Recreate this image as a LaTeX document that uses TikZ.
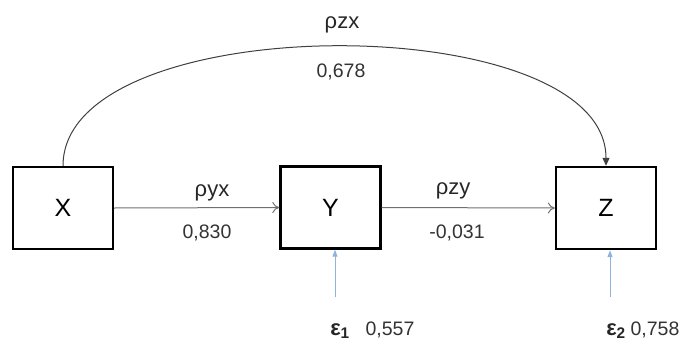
\documentclass[tikz,border=0pt]{standalone}
\usepackage{fontspec}
\setmainfont{Liberation Sans}
\usetikzlibrary{arrows.meta}
\definecolor{linegray}{HTML}{707070}
\definecolor{errblue}{HTML}{8DB4DC}
\begin{document}
\begin{tikzpicture}[x=1pt,y=-1pt,
  varbox/.style={draw=black,line width=2.4pt,minimum width=100pt,minimum height=82pt,inner sep=0pt,font=\fontsize{25}{29}\selectfont},
  path/.style={draw=linegray,line width=1pt,-{To[length=7pt,width=11pt]}},
  curvearrow/.style={draw=black!75,line width=1pt,-{Triangle[length=8pt,width=7pt]}},
  errarrow/.style={draw=errblue,line width=1pt,-{Triangle[length=7pt,width=5pt]}},
  lab/.style={font=\fontsize{22}{26}\selectfont,text=black!85,inner sep=0pt},
  num/.style={font=\fontsize{19.5}{23}\selectfont,text=black!80,inner sep=0pt}]
\useasboundingbox (0,0) rectangle (687,353);
\node[varbox] (X) at (63,208) {X};
\node[varbox] (Y) at (330.5,207.5) {Y};
\node[varbox] (Z) at (606,208) {Z};
\draw[path] (X.east) -- (Y.west);
\draw[path] (Y.east) -- (Z.west);
\draw[curvearrow] (X.north) .. controls (63,7) and (606,7) .. (Z.north);
\node[lab] (rzx) at (342,25) {ρzx};
\node[num] (vzx) at (341,72) {0,678};
\node[lab] (ryx) at (212,193) {ρyx};
\node[num] (vyx) at (207,233) {0,830};
\node[lab] (rzy) at (453,191) {ρzy};
\node[num] (vzy) at (457,233) {-0,031};
\coordinate (e1a) at (335,297);
\coordinate (e2a) at (610,297);
\draw[errarrow] (e1a) -- (e1a |- Y.south);
\draw[errarrow] (e2a) -- (e2a |- Z.south);
\node[lab] (e1) at (340,331) {\textbf{ε}\textsubscript{\textbf{1}}};
\node[num] (v1) at (390,330) {0,557};
\node[lab] (e2) at (616,331) {\textbf{ε}\textsubscript{\textbf{2}}};
\node[num] (v2) at (655,330) {0,758};
\end{tikzpicture}
\end{document}
